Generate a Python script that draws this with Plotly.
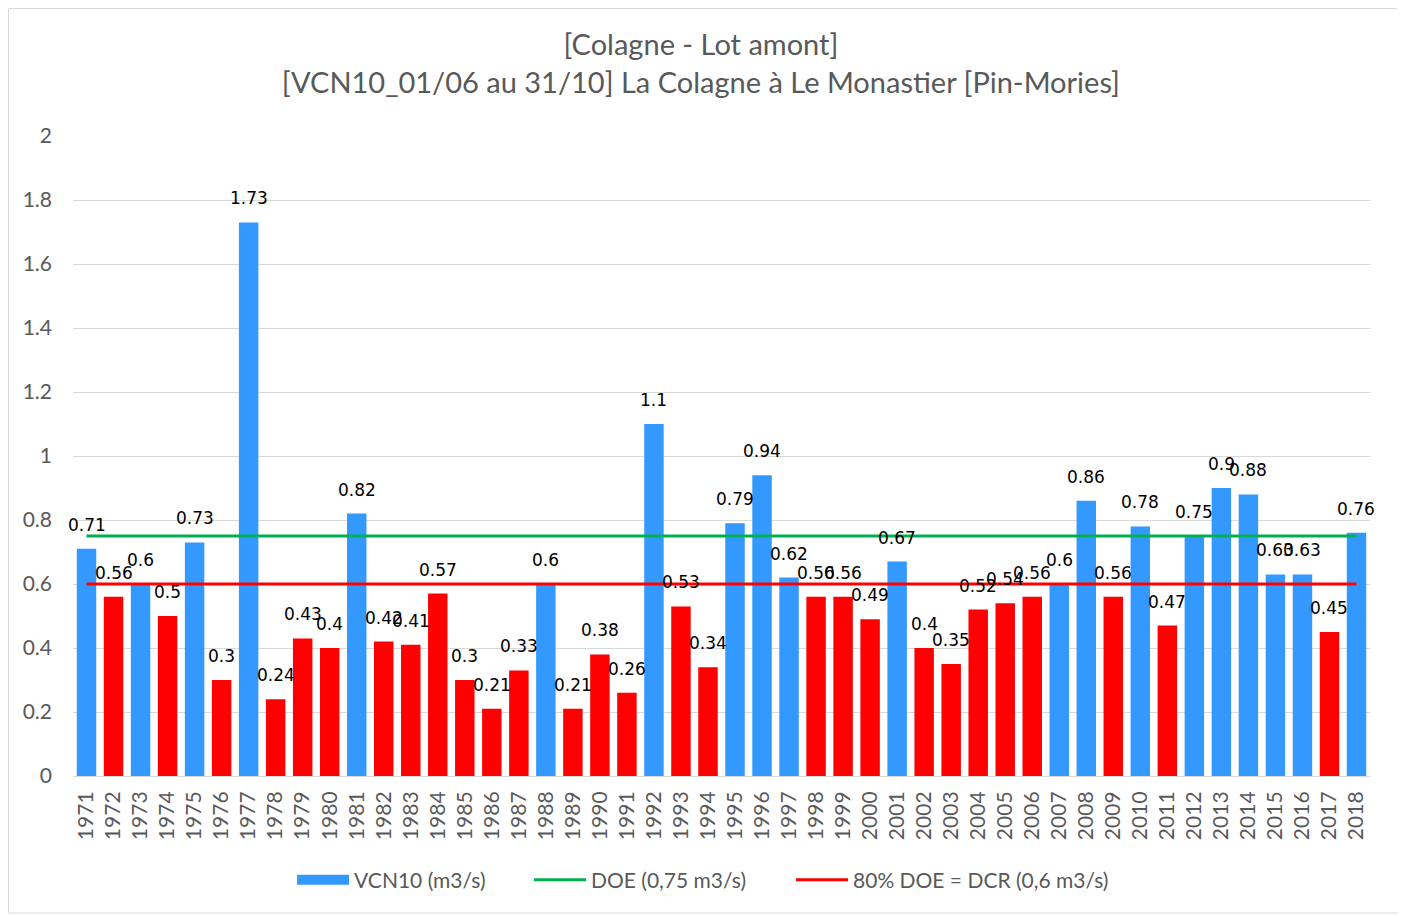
import plotly.graph_objects as go

years = [str(y) for y in range(1971, 2019)]
vcn10 = [0.71, 0.56, 0.6, 0.5, 0.73, 0.3, 1.73, 0.24, 0.43, 0.4,
         0.82, 0.42, 0.41, 0.57, 0.3, 0.21, 0.33, 0.6, 0.21, 0.38,
         0.26, 1.1, 0.53, 0.34, 0.79, 0.94, 0.62, 0.56, 0.56, 0.49,
         0.67, 0.4, 0.35, 0.52, 0.54, 0.56, 0.6, 0.86, 0.56, 0.78,
         0.47, 0.75, 0.9, 0.88, 0.63, 0.63, 0.45, 0.76]
doe = 0.75
dcr = 0.6

blue = "#3399FF"
red = "#FF0000"
green = "#00B050"
grey = "#595959"
bar_colors = [red if v < dcr else blue for v in vcn10]

fig = go.Figure()
fig.add_trace(go.Bar(
    x=years, y=vcn10, name="VCN10 (m3/s)", showlegend=False, legendgroup="vcn",
    marker=dict(color=bar_colors, line=dict(width=0)),
))
# legend proxy: wide blue rectangle like the reference legend key
fig.add_trace(go.Scatter(
    x=[None], y=[None], mode="lines", name="VCN10 (m3/s)", legendgroup="vcn",
    line=dict(color=blue, width=14), hoverinfo="skip", legend="legend",
))
fig.add_trace(go.Scatter(
    x=years, y=[doe] * len(years), mode="lines", name="DOE (0,75 m3/s)",
    line=dict(color=green, width=3), legend="legend2",
))
fig.add_trace(go.Scatter(
    x=years, y=[dcr] * len(years), mode="lines", name="80% DOE = DCR (0,6 m3/s)",
    line=dict(color=red, width=3), legend="legend3",
))

# data labels (category position = index of the year)
for i, v in enumerate(vcn10):
    fig.add_annotation(x=i, y=v, xref="x", yref="y", text=f"{v:g}", showarrow=False,
                       yshift=24, xanchor="center", yanchor="middle",
                       font=dict(family="DejaVu Sans", size=17, color="black"))

leg_common = dict(orientation="h", xanchor="left", y=-0.1625, yanchor="middle",
                  itemwidth=52, bgcolor="rgba(0,0,0,0)",
                  font=dict(family="Lato", size=21, color=grey))

fig.update_layout(
    width=1397, height=908,
    margin=dict(l=65, r=35, t=128, b=140, autoexpand=False),
    paper_bgcolor="white", plot_bgcolor="white",
    font=dict(family="Lato", color=grey, size=18),
    title=dict(
        text="[Colagne - Lot amont]<br>[VCN10_01/06 au 31/10] La Colagne à Le Monastier [Pin-Mories]",
        x=0.496, xanchor="center", xref="container", y=0.948, yanchor="top", yref="container",
        font=dict(family="Lato", size=29, color=grey),
    ),
    bargap=0.28,
    showlegend=True,
    legend=dict(x=0.1689, **leg_common),
    legend2=dict(x=0.3516, **leg_common),
    legend3=dict(x=0.5536, **leg_common),
)
fig.update_xaxes(
    type="category", tickangle=-90, showgrid=False,
    range=[-0.5, len(years) - 0.5], autorange=False,
    showline=True, linecolor="#D9D9D9", linewidth=1,
    tickfont=dict(family="Lato", size=21, color=grey),
    ticks="", ticklabelstandoff=6, automargin=False,
)
fig.update_yaxes(
    range=[0, 2], dtick=0.2, showgrid=True, gridcolor="#D9D9D9", gridwidth=1,
    zeroline=False, showline=False, ticks="",
    tickfont=dict(family="Lato", size=21, color=grey),
    ticklabelstandoff=20, automargin=False,
)
fig.add_shape(type="rect", xref="paper", yref="paper",
              x0=-0.0497, x1=1.0216, y0=-0.2141, y1=1.1992,
              line=dict(color="#D9D9D9", width=1), layer="below")

fig.write_html("out.html")
